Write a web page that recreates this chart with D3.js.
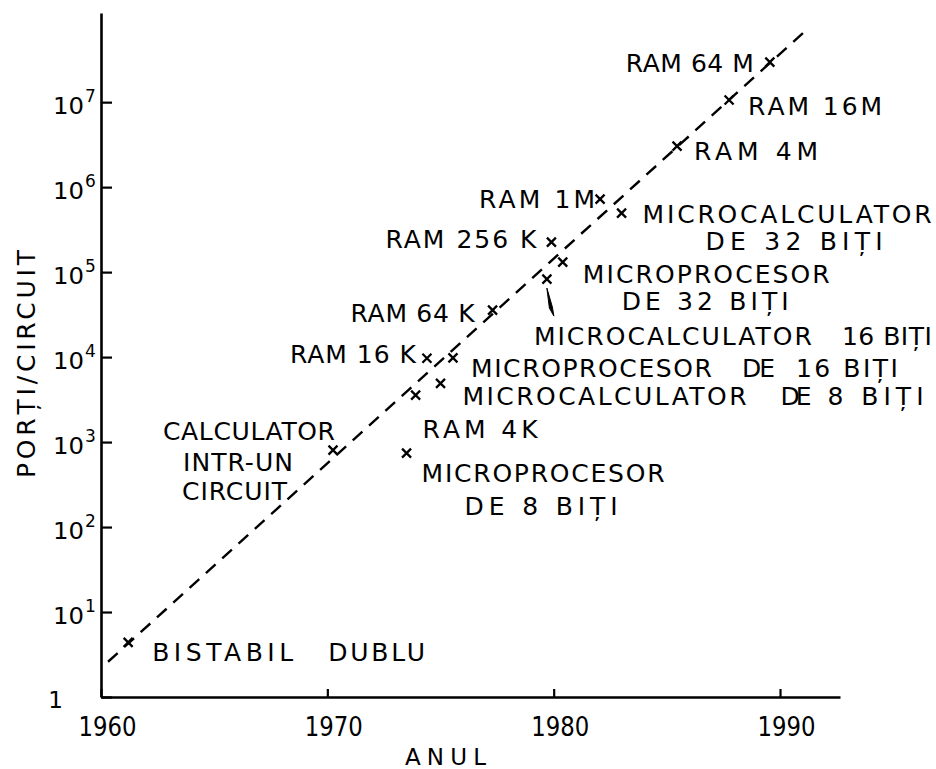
<!DOCTYPE html>
<html><head><meta charset="utf-8">
<script src="https://cdn.jsdelivr.net/npm/d3@7"></script>
<style>
html,body{margin:0;padding:0;background:#fff;}
svg{display:block;}
text{font-family:"DejaVu Sans",sans-serif;fill:#000;white-space:pre;}
</style></head><body>
<svg id="chart" width="936" height="769"></svg>
<script>
// ---- data ----
const categories = ["BISTABIL DUBLU","CALCULATOR INTR-UN CIRCUIT","MICROPROCESOR DE 8 BIȚI","RAM 4K",
  "MICROCALCULATOR DE 8 BIȚI","RAM 16 K","MICROPROCESOR DE 16 BIȚI","RAM 64 K",
  "MICROCALCULATOR 16 BIȚI","RAM 256 K","MICROPROCESOR DE 32 BIȚI","RAM 1M",
  "MICROCALCULATOR DE 32 BIȚI","RAM 4M","RAM 16M","RAM 64 M"];
const years = [1961.2,1970.25,1973.5,1973.9,1975.0,1974.4,1975.55,1977.3,1979.7,1979.9,1980.4,1982.05,1983.0,1985.45,1987.75,1989.55];
const gates = [4.4,805,740,3570,4900,9700,9800,35700,82700,225000,131000,722000,494000,3.04e6,1.06e7,2.96e7];
const trendYears = [1960.31,1991.15];
const trendGates = [2.6,7.0e7];
const xTickValues = [1960,1970,1980,1990];
const xTickLabels = ["1960","1970","1980","1990"];
const yTickValues = [1,1e1,1e2,1e3,1e4,1e5,1e6,1e7];
const yTickBase = ["1","10","10","10","10","10","10","10"];
const yTickExp = ["","1","2","3","4","5","6","7"];
const xTitle = "ANUL";
const yTitle = "PORȚI/CIRCUIT";

// ---- label layout (pixel offsets from each marker) ----
const labelLayout = [
  {i:0, lines:[{t:"BISTABIL",dx:24,dy:19,w:141},{t:"DUBLU",dx:200,dy:19,w:97}]},
  {i:1, lines:[{t:"CALCULATOR",dx:-170,dy:-10,w:172},{t:"INTR-UN",dx:-150,dy:21,w:110},{t:"CIRCUIT",dx:-151,dy:50,w:105}]},
  {i:2, lines:[{t:"MICROPROCESOR",dx:15,dy:29,w:243},{t:"DE 8 BIȚI",dx:58,dy:62,w:153}]},
  {i:3, lines:[{t:"RAM 4K",dx:7,dy:43,w:115}]},
  {i:4, lines:[{t:"MICROCALCULATOR",dx:22,dy:22,w:284},{t:"DE",dx:340,dy:22,w:31},{t:"8 BIȚI",dx:387,dy:22,w:96}]},
  {i:5, lines:[{t:"RAM 16 K",dx:-137,dy:5,w:126}]},
  {i:6, lines:[{t:"MICROPROCESOR",dx:18,dy:19,w:241},{t:"DE",dx:289,dy:19,w:33},{t:"16 BIȚI",dx:343,dy:19,w:102}]},
  {i:7, lines:[{t:"RAM 64 K",dx:-142,dy:12,w:124}]},
  {i:8, lines:[{t:"MICROCALCULATOR",dx:-13,dy:66,w:278},{t:"16 BIȚI",dx:295,dy:66,w:90}], arrow:true},
  {i:9, lines:[{t:"RAM 256 K",dx:-166,dy:6,w:151}]},
  {i:10, lines:[{t:"MICROPROCESOR",dx:20,dy:21,w:247},{t:"DE 32 BIȚI",dx:59,dy:48,w:167}]},
  {i:11, lines:[{t:"RAM 1M",dx:-121,dy:9,w:116}]},
  {i:12, lines:[{t:"MICROCALCULATOR",dx:21,dy:10,w:289},{t:"DE 32 BIȚI",dx:84,dy:37,w:177}]},
  {i:13, lines:[{t:"RAM 4M",dx:17,dy:14,w:124}]},
  {i:14, lines:[{t:"RAM 16M",dx:19,dy:15,w:134}]},
  {i:15, lines:[{t:"RAM 64 M",dx:-144,dy:10,w:128}]}
];

const svg = d3.select("#chart");
const x = d3.scaleLinear().domain([1960,1992.65]).range([101,840]);
const y = d3.scaleLog().domain([1,1.12e8]).range([697,13]);

// axes
const gx = svg.append("g").attr("transform","translate(0,697)")
  .call(d3.axisBottom(x).tickValues(xTickValues).tickSize(-8).tickSizeOuter(0).tickFormat(""));
const gy = svg.append("g").attr("transform","translate(101,0)")
  .call(d3.axisLeft(y).tickValues(yTickValues).tickSize(-11).tickSizeOuter(0).tickFormat(""));
[gx,gy].forEach(g=>{
  g.select(".domain").attr("stroke","#000").attr("stroke-width",2.6);
  g.selectAll(".tick line").attr("stroke","#000").attr("stroke-width",2.2);
});
gx.selectAll(".tick").append("text")
  .attr("x",6).attr("y",39).attr("text-anchor","middle")
  .attr("font-size",26).attr("textLength",58).attr("lengthAdjust","spacingAndGlyphs")
  .text((d,k)=>xTickLabels[k]);
gy.selectAll(".tick").each(function(d,k){
  const t = d3.select(this);
  if (yTickExp[k]==="") {
    t.append("text").attr("x",-38).attr("y",10).attr("text-anchor","end")
      .attr("font-size",23).text(yTickBase[k]);
  } else {
    t.append("text").attr("x",-17).attr("y",11).attr("text-anchor","end")
      .attr("font-size",23).attr("textLength",31)
      .attr("lengthAdjust","spacingAndGlyphs").text(yTickBase[k]);
    t.append("text").attr("x",-16).attr("y",-1).attr("text-anchor","start")
      .attr("font-size",17).text(yTickExp[k]);
  }
});

// titles
svg.append("text").attr("x",405).attr("y",765).attr("font-size",23)
  .attr("textLength",81).attr("lengthAdjust","spacing").text(xTitle);
svg.append("text").attr("transform","translate(35,478) rotate(-90)").attr("font-size",25)
  .attr("textLength",228).attr("lengthAdjust","spacing").text(yTitle);

// trend line
const trend = trendYears.map((yr,k)=>[yr,trendGates[k]]);
svg.append("path").datum(trend)
  .attr("d", d3.line().x(d=>x(d[0])).y(d=>y(d[1])))
  .attr("fill","none").attr("stroke","#000").attr("stroke-width",2.4)
  .attr("stroke-dasharray","13,9");

// markers
const pts = years.map((yr,k)=>({yr, g:gates[k], name:categories[k]}));
const mk = svg.append("g").selectAll("g").data(pts).join("g")
  .attr("transform",d=>`translate(${x(d.yr)},${y(d.g)})`);
mk.append("path").attr("d","M-4.5,-4.5L4.5,4.5M-4.5,4.5L4.5,-4.5")
  .attr("stroke","#000").attr("stroke-width",2.3).attr("fill","none");

// labels
const lg = svg.append("g");
labelLayout.forEach(L=>{
  const px = x(years[L.i]), py = y(gates[L.i]);
  L.lines.forEach(s=>{
    lg.append("text").attr("x",px+s.dx).attr("y",py+s.dy).attr("font-size",25)
      .attr("textLength",s.w).attr("lengthAdjust","spacing").text(s.t);
  });
  if (L.arrow) {
    lg.append("path").attr("transform",`translate(${px},${py})`)
      .attr("d","M0,9 L5.5,28 L7,37 L2.5,29 Z").attr("fill","#000")
      .attr("stroke","#000").attr("stroke-width",1);
  }
});
</script>
</body></html>
